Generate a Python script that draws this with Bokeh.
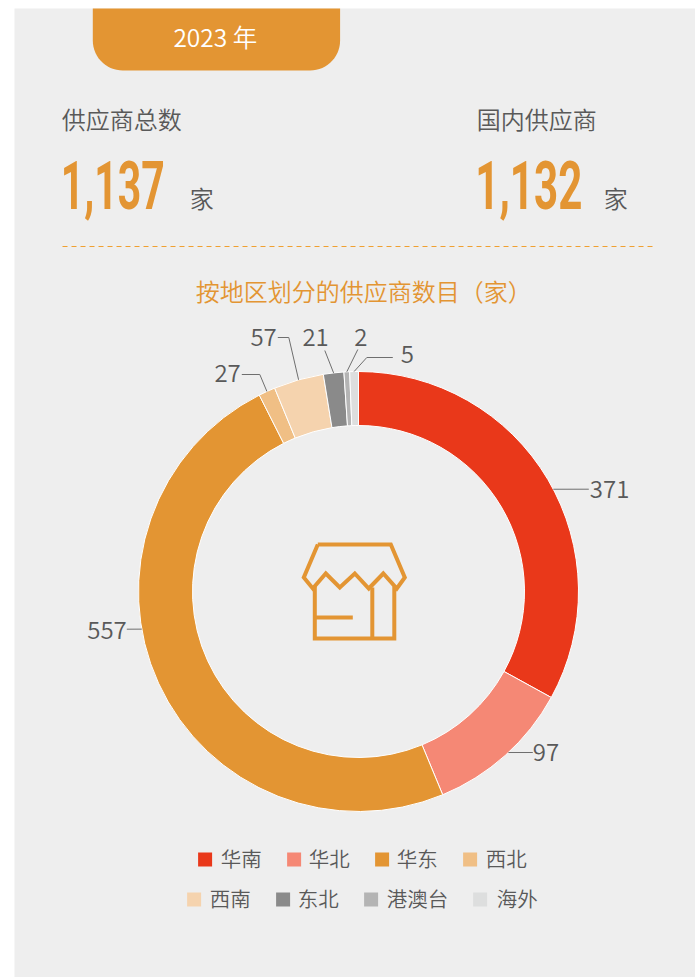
import numpy as np
from bokeh.plotting import figure
from bokeh.io import curdoc
from bokeh.models import Range1d, CustomJS
from bokeh.core.properties import value
from bokeh.embed import file_html
from bokeh.resources import INLINE

regions = ["华南", "华北", "华东", "西北", "西南", "东北", "港澳台", "海外"]
counts = [371, 97, 557, 27, 57, 21, 2, 5]
# sweep of each slice as drawn in the picture, in degrees
sweep_deg = [118.8, 38.7, 175.7, 4.4, 13.2, 5.4, 1.5, 2.3]
colors = ["#E9381A", "#F58875", "#E39533", "#F0BF85", "#F5D3AE", "#8A8A8A", "#B4B4B4", "#DDDEDE"]
year_label = "2023 年"
total_label = "供应商总数"
domestic_label = "国内供应商"
total_value = "1,137"
domestic_value = "1,132"
unit = "家"
title = "按地区划分的供应商数目（家）"

W, H = 695, 977
ORANGE = "#E39533"
GREY = "#595959"
BODY = "Noto Sans CJK SC DemiLight"
BIG = "Roboto"

def Y(py):
    return H - np.asarray(py, dtype=float)

p = figure(width=W, height=H, x_range=Range1d(0.7, W + 0.7), y_range=Range1d(0, H),
           toolbar_location=None, output_backend="svg", min_border=0,
           x_axis_type=None, y_axis_type=None, outline_line_color=None,
           background_fill_color="white", border_fill_color="white")
p.grid.visible = False

# panel
p.quad(left=[14.7], right=[696], top=[Y(8)], bottom=[Y(977)], fill_color="#EEEEEE", line_color=None)

# tab with rounded bottom corners
r = 30
a1 = np.linspace(np.pi, 1.5 * np.pi, 16)
a2 = np.linspace(1.5 * np.pi, 2 * np.pi, 16)
tx = np.r_[93, 93 + r + r * np.cos(a1), 340.3 - r + r * np.cos(a2), 340.3]
ty = np.r_[8, 70 - r - r * np.sin(a1), 70 - r - r * np.sin(a2), 8]
p.patch(tx, Y(ty), fill_color=ORANGE, line_color=None)

def txt(x, y, s, size, color=GREY, align="left", font=BODY, style="normal"):
    p.text([x], [Y(y - 2)], text=[s], text_font=value(font), text_font_size=f"{size}px",
           text_color=color, text_align=align, text_baseline="middle", text_font_style=style)

txt(215.5, 38, year_label, 24.5, "white", "center")
txt(62, 120, total_label, 24)
txt(477, 120, domestic_label, 24)
txt(61, 186, total_value, 66, ORANGE, font=BIG, style="bold")
txt(475.5, 186, domestic_value, 66, ORANGE, font=BIG, style="bold")
txt(190, 199, unit, 24)
txt(604, 199, unit, 24)
p.line([62.7, 656], Y([246, 246]), line_color="#F0A030", line_width=1, line_dash="5 4")
txt(196, 292, title, 24, ORANGE)

# donut
CX, CY, RO, RI = 358.7, 591, 220, 166
frac = np.cumsum([0] + sweep_deg) / sum(sweep_deg)
start = np.pi / 2 - 2 * np.pi * frac[:-1]
end = np.pi / 2 - 2 * np.pi * frac[1:]
p.annular_wedge([CX] * len(counts), [Y(CY)] * len(counts), inner_radius=RI, outer_radius=RO,
                start_angle=end, end_angle=start, fill_color=colors, line_color="white", line_width=1)

# leaders: anchor on the ring near each slice's middle, then elbow points and a label
mid = (start + end) / 2
leaders = [
    (2.9, [(589, 488.7)], (590, 490, "left")),
    (-1.1, [(533, 752)], (533, 753, "left")),
    (14.8, [(127, 628.7)], (127, 631, "right")),
    (0, [(260, 374), (242, 374)], (241, 374, "right")),
    (0, [(289, 337), (278, 337)], (277, 338, "right")),
    (0, [(325, 350)], (329, 338, "right")),
    (0, [(358, 349)], (361, 338, "center")),
    (0, [(367, 357), (393, 357)], (401, 355, "left")),
]
for i, (off, pts, (lx, ly, al)) in enumerate(leaders):
    a = mid[i] - np.radians(off)
    xs = [CX + RO * np.cos(a)] + [q[0] for q in pts]
    ys = [CY - RO * np.sin(a)] + [q[1] for q in pts]
    p.line(xs, Y(ys), line_color="#6E6E6E", line_width=1)
    txt(lx, ly, str(counts[i]), 24, align=al)

# shop icon
ICON = dict(line_color=ORANGE, line_width=4, line_join="miter")
ax = [318, 391, 405, 397, 383.5, 369, 355, 340, 326, 313, 304, 318]
ay = [544, 544, 577, 588, 573, 588, 573, 587, 573, 588, 577, 544]
p.line(ax, Y(ay), **ICON)
p.line([315, 315, 394.5, 394.5], Y([586, 638, 638, 586]), **ICON)
p.line([372.5, 372.5], Y([587, 638]), **ICON)
p.line([315, 353], Y([617, 617]), **ICON)

# legend
sq_x = [198.3, 287.3, 375.3, 463.3, 187.3, 276.3, 364.3, 473.3]
tx_x = [221, 309, 397, 486, 210, 298, 387, 497]
rows = [859, 859, 859, 859, 899, 899, 899, 899]
for i, reg in enumerate(regions):
    p.quad(left=[sq_x[i]], right=[sq_x[i] + 14], top=[Y(rows[i] - 7)], bottom=[Y(rows[i] + 7)],
           fill_color=colors[i], line_color=None)
    txt(tx_x[i], rows[i], reg, 20.5)

# the headline figures are set in a condensed face: squeeze the real text to its width
squeeze = CustomJS(args=dict(names=[total_value, domestic_value], widths=[104, 107]), code="""
function walk(root) {
  root.querySelectorAll('text').forEach(t => {
    const k = names.indexOf(t.textContent);
    if (k >= 0) { t.setAttribute('textLength', widths[k]); t.setAttribute('lengthAdjust', 'spacingAndGlyphs'); }
  });
  root.querySelectorAll('*').forEach(e => { if (e.shadowRoot) walk(e.shadowRoot); });
}
[0, 100, 300, 800].forEach(ms => setTimeout(() => walk(document), ms));
""")
doc = curdoc()
doc.add_root(p)
doc.js_on_event("document_ready", squeeze)

open("out.html", "w").write(file_html(p, INLINE))
